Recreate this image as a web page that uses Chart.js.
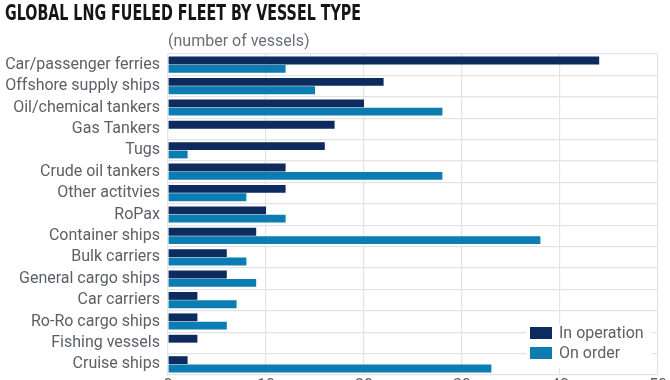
<!DOCTYPE html>
<html>
<head>
<meta charset="utf-8">
<script src="https://cdn.jsdelivr.net/npm/chart.js@4/dist/chart.umd.min.js"></script>
<style>
html,body{margin:0;padding:0;overflow:hidden;background:#fff;}
#wrap{position:relative;width:670px;height:396px;}
</style>
</head>
<body>
<div id="wrap"><canvas id="c"></canvas></div>
<script>
const categories = ["Car/passenger ferries","Offshore supply ships","Oil/chemical tankers","Gas Tankers","Tugs","Crude oil tankers","Other actitvies","RoPax","Container ships","Bulk carriers","General cargo ships","Car carriers","Ro-Ro cargo ships","Fishing vessels","Cruise ships"];
const inOperation = [44,22,20,17,16,12,12,10,9,6,6,3,3,3,2];
const onOrder = [12,15,28,0,2,28,8,12,38,8,9,7,6,0,33];
const seriesNames = ["In operation","On order"];
const xTicks = [0,10,20,30,40,50];
const titleText = "GLOBAL LNG FUELED FLEET BY VESSEL TYPE";
const unitText = "(number of vessels)";

const COL_OP = "#0d2b5e";
const COL_ORD = "#0b7db3";
const GRAY = "#5b5f66";
const GRID = "#e3e3e3";

const extras = {
  id: "extras",
  afterDraw(chart) {
    const ctx = chart.ctx, a = chart.chartArea;
    ctx.save();
    ctx.font = "bold 22px 'DejaVu Sans Condensed', 'DejaVu Sans', sans-serif";
    ctx.fillStyle = "#151515";
    ctx.textAlign = "left";
    ctx.textBaseline = "alphabetic";
    const w = ctx.measureText(titleText).width;
    const sx = 356 / w;
    ctx.save();
    ctx.translate(5, 20);
    ctx.scale(sx, 1);
    ctx.fillText(titleText, 0, 0);
    ctx.restore();
    ctx.fillStyle = "#6a6e75";
    ctx.font = "16px Roboto";
    ctx.fillText(unitText, a.left, a.top - 8);
    const lx = a.right - 128, ly = a.bottom - 48;
    ctx.fillStyle = "#fff";
    ctx.fillRect(lx - 4, ly - 3, 126, 44);
    ctx.textBaseline = "middle";
    chart.data.datasets.forEach((ds, i) => {
      const y = ly + i * 20;
      ctx.fillStyle = ds.backgroundColor;
      ctx.fillRect(lx, y, 22, 12);
      ctx.fillStyle = GRAY;
      ctx.fillText(ds.label, lx + 29, y + 6.5);
    });
    ctx.restore();
  }
};

new Chart(document.getElementById("c"), {
  type: "bar",
  data: {
    labels: categories,
    datasets: [
      { label: seriesNames[0], data: inOperation, backgroundColor: COL_OP },
      { label: seriesNames[1], data: onOrder, backgroundColor: COL_ORD }
    ]
  },
  options: {
    indexAxis: "y",
    responsive: true,
    maintainAspectRatio: false,
    animation: false,
    layout: { padding: { left: 4, right: 12, top: 54, bottom: 0 } },
    datasets: { bar: { categoryPercentage: 0.78, barPercentage: 0.94 } },
    plugins: {
      legend: { display: false },
      tooltip: { enabled: false },
      title: { display: false }
    },
    scales: {
      x: {
        min: 0, max: 50,
        afterBuildTicks: (s) => { s.ticks = xTicks.map(v => ({ value: v })); },
        afterFit: (s) => { s.height = 21; },
        grid: { color: GRID, drawTicks: false, lineWidth: 1.2 },
        border: { display: false },
        ticks: { color: GRAY, font: { family: "Roboto", size: 16 }, padding: 1 }
      },
      y: {
        afterFit: (s) => { s.width = 164; },
        grid: { color: GRID, offset: true, drawTicks: false, lineWidth: 1.2 },
        border: { display: false },
        ticks: { color: GRAY, font: { family: "Roboto", size: 16 }, padding: 8, autoSkip: false }
      }
    }
  },
  plugins: [extras]
});
</script>
</body>
</html>
